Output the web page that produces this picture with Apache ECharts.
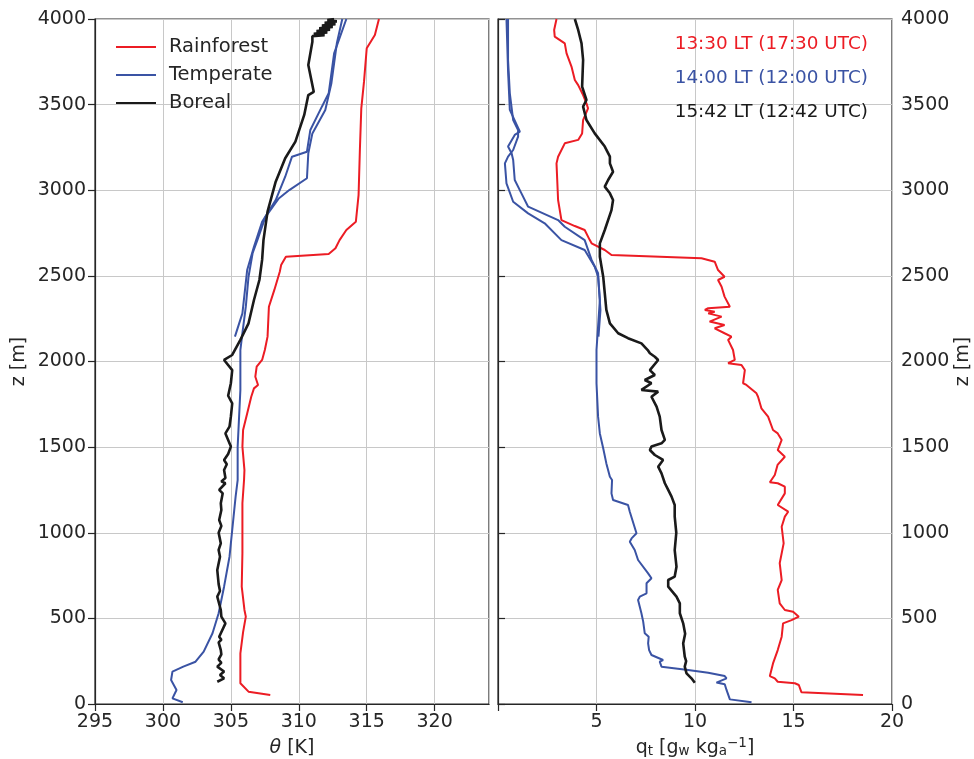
<!DOCTYPE html>
<html>
<head>
<meta charset="utf-8">
<script src="https://cdn.jsdelivr.net/npm/echarts@6.0.0/dist/echarts.min.js"></script>
<style>
  html, body { margin: 0; padding: 0; background: #fff; }
  #chart { width: 974px; height: 759px; }
</style>
</head>
<body>
<div id="chart"></div>
<script>
// profiles: [value, z (m)]
const rainTheta = [[307.9,53],[306.3,72],[305.7,121],[305.7,160],[305.7,296],[305.9,420],[306.1,510],[306.0,549],[305.8,685],[305.85,880],[305.85,1172],[305.97,1308],[306.0,1366],[305.85,1503],[305.9,1600],[306.2,1697],[306.5,1794],[306.7,1843],[307.0,1863],[306.8,1911],[306.9,1970],[307.3,2009],[307.5,2067],[307.7,2145],[307.8,2320],[308.2,2418],[308.6,2524],[308.7,2563],[309.05,2612],[312.2,2628],[312.7,2661],[313.0,2709],[313.5,2768],[314.2,2816],[314.4,2972],[314.5,3245],[314.6,3478],[314.8,3634],[315.0,3829],[315.6,3906],[315.9,4000]];

const tempTheta = [[301.46,10],[300.7,33],[301.0,82],[300.6,140],[300.7,189],[301.5,218],[302.4,247],[303.0,306],[303.65,413],[304.1,530],[304.5,685],[304.9,860],[305.2,1094],[305.35,1211],[305.5,1308],[305.5,1503],[305.7,1834],[305.7,2067],[305.85,2165],[306.1,2320],[306.3,2495],[306.6,2632],[306.95,2709],[307.55,2845],[308.5,2950],[309.3,3001],[310.6,3070],[310.7,3216],[311.0,3332],[311.95,3469],[312.4,3625],[312.8,3858],[313.2,4000]];

const tempTheta2 = [[305.3,2145],[305.6,2220],[305.85,2281],[306.2,2534],[306.7,2670],[307.3,2816],[308.3,2943],[309.0,3079],[309.5,3196],[310.6,3225],[310.85,3352],[311.7,3488],[312.2,3566],[312.6,3799],[313.5,4000]];

const borealTheta = [[304.0,130],[304.5,150],[304.2,169],[304.5,190],[304.0,218],[304.3,240],[304.1,260],[304.3,290],[304.26,315],[304.1,360],[304.3,375],[304.14,393],[304.6,471],[304.3,510],[304.26,549],[304.0,627],[304.2,660],[304.1,700],[304.0,782],[304.2,860],[304.1,900],[304.26,938],[304.1,1000],[304.3,1040],[304.14,1074],[304.3,1133],[304.26,1172],[304.4,1230],[304.14,1250],[304.6,1289],[304.3,1300],[304.6,1320],[304.5,1366],[304.7,1400],[304.5,1425],[304.8,1460],[305.0,1503],[304.6,1580],[304.9,1620],[305.0,1678],[305.1,1756],[304.8,1800],[305.0,1873],[305.1,1950],[304.5,2009],[305.1,2038],[305.7,2126],[306.3,2223],[306.7,2359],[307.1,2476],[307.3,2593],[307.4,2709],[307.7,2875],[308.3,3050],[309.0,3187],[309.75,3284],[310.4,3440],[310.7,3556],[311.1,3575],[310.7,3731],[311.0,3867],[311.0,3900],[311.9,3906],[311.1,3914],[312.1,3922],[311.3,3930],[312.3,3938],[311.5,3946],[312.5,3954],[311.7,3962],[312.7,3970],[311.9,3978],[312.8,3986],[312.1,3994],[312.6,4000]];

const rainQ = [[18.53,53],[15.4,69],[15.27,111],[15.07,121],[14.2,130],[14.05,150],[13.8,163],[13.96,237],[14.2,315],[14.4,393],[14.47,471],[14.9,490],[15.27,510],[14.98,539],[14.56,549],[14.3,588],[14.2,666],[14.4,724],[14.3,822],[14.5,938],[14.4,1035],[14.56,1094],[14.73,1123],[14.2,1162],[14.56,1230],[14.56,1269],[14.2,1289],[13.8,1295],[14.05,1337],[14.19,1396],[14.56,1444],[14.2,1483],[14.4,1542],[14.2,1580],[13.96,1600],[13.71,1678],[13.37,1727],[13.2,1794],[13.12,1814],[12.61,1863],[12.44,1873],[12.53,1950],[12.36,1980],[11.68,1990],[12.02,2009],[11.93,2067],[11.68,2126],[11.85,2145],[11.5,2165],[11.6,2174],[11.0,2194],[11.5,2213],[10.74,2233],[11.35,2262],[10.67,2281],[11.0,2290],[10.5,2301],[10.67,2311],[11.77,2320],[11.5,2379],[11.35,2437],[11.17,2476],[11.5,2495],[11.17,2534],[11.0,2583],[10.33,2603],[5.76,2622],[5.42,2651],[4.75,2690],[4.66,2709],[4.4,2768],[3.9,2791],[3.22,2826],[3.05,2943],[2.97,3157],[3.05,3196],[3.39,3274],[4.07,3294],[4.27,3332],[4.32,3410],[4.57,3478],[4.49,3508],[4.32,3556],[4.07,3614],[3.9,3644],[3.73,3722],[3.48,3799],[3.39,3858],[2.88,3897],[2.85,3936],[2.97,4000]];

const tempQ = [[12.87,10],[11.77,27],[11.6,82],[11.51,115],[11.09,125],[11.6,150],[11.51,163],[10.67,183],[9.65,199],[8.3,218],[8.21,247],[8.38,257],[7.79,286],[7.67,315],[7.62,354],[7.65,393],[7.45,413],[7.37,481],[7.28,530],[7.11,607],[7.2,627],[7.54,646],[7.54,705],[7.79,734],[7.62,763],[7.11,841],[6.94,899],[6.69,948],[6.78,967],[7.03,997],[6.69,1123],[6.6,1162],[5.84,1191],[5.76,1230],[5.79,1308],[5.68,1327],[5.5,1405],[5.34,1493],[5.17,1580],[5.08,1678],[5.0,1873],[5.0,2067],[5.17,2359],[5.08,2495],[4.91,2553],[4.4,2651],[3.22,2709],[2.37,2807],[1.53,2865],[0.77,2933],[0.43,3040],[0.35,3157],[0.51,3196],[0.77,3235],[1.02,3313],[1.02,3352],[0.77,3410],[0.6,3566],[0.51,3761],[0.51,4000]];

const tempQ2 = [[5.1,2145],[5.2,2300],[5.08,2515],[4.75,2593],[4.4,2709],[3.39,2787],[3.05,2826],[1.53,2904],[1.19,2982],[0.85,3060],[0.77,3177],[0.69,3216],[0.51,3255],[0.85,3323],[1.11,3342],[0.6,3469],[0.51,3698],[0.43,4000]];

const borealQ = [[9.99,124],[9.82,150],[9.57,179],[9.48,218],[9.55,250],[9.48,276],[9.4,354],[9.5,410],[9.4,471],[9.23,530],[9.23,588],[9.06,627],[8.64,685],[8.64,724],[8.97,744],[9.06,802],[8.97,899],[9.05,1000],[8.97,1094],[8.97,1162],[8.81,1211],[8.64,1250],[8.47,1289],[8.3,1347],[8.13,1386],[8.38,1425],[7.96,1454],[7.71,1483],[7.79,1503],[8.3,1522],[8.47,1542],[8.3,1600],[8.21,1678],[8.05,1736],[7.79,1794],[8.13,1824],[7.28,1834],[7.79,1873],[7.45,1892],[7.96,1921],[7.71,1950],[8.13,2009],[7.96,2028],[7.71,2048],[7.6,2067],[7.28,2106],[6.6,2136],[6.1,2165],[5.68,2223],[5.5,2301],[5.34,2495],[5.17,2612],[5.17,2690],[5.42,2768],[5.76,2884],[5.84,2943],[5.68,2982],[5.42,3021],[5.59,3060],[5.84,3108],[5.68,3157],[5.68,3196],[5.42,3255],[4.91,3332],[4.49,3410],[4.32,3488],[4.49,3527],[4.27,3605],[4.32,3761],[4.24,3858],[4.07,3936],[3.9,4000]];

const siteNames = ['Rainforest', 'Temperate', 'Boreal'];
const siteColors = ['#ec1c24', '#3a53a4', '#1a1a1a'];
const timeLabels = ['13:30 LT (17:30 UTC)', '14:00 LT (12:00 UTC)', '15:42 LT (12:42 UTC)'];

const FONT = 'DejaVu Sans';
const TXT = '#262626';

var chart = echarts.init(document.getElementById('chart'));

function xAx(gridIndex, min, max, name, hideZero) {
  return {
    type: 'value', gridIndex: gridIndex, min: min, max: max, interval: 5,
    name: name, nameLocation: 'middle', nameGap: 32,
    nameTextStyle: {
      color: TXT, fontFamily: FONT, fontSize: 19, lineHeight: 22,
      rich: {
        it: { fontStyle: 'italic', fontFamily: FONT, fontSize: 19, color: TXT, lineHeight: 22 },
        n: { fontFamily: FONT, fontSize: 19, color: TXT, lineHeight: 22 },
        sub: { fontFamily: FONT, fontSize: 13.5, color: TXT, verticalAlign: 'bottom', lineHeight: 22 },
        sup: { fontFamily: FONT, fontSize: 13.5, color: TXT, verticalAlign: 'top', lineHeight: 22 }
      }
    },
    axisLine: { show: true, lineStyle: { color: TXT, width: 1.2 } },
    axisTick: { show: true, length: 7, lineStyle: { color: TXT, width: 1.2 } },
    axisLabel: {
      color: TXT, fontFamily: FONT, fontSize: 19, margin: 9,
      showMaxLabel: max % 5 === 0,
      formatter: function (v) { return (hideZero && v === 0) || v % 5 !== 0 ? '' : String(v); }
    },
    splitLine: { show: true, lineStyle: { color: '#c8c8c8', width: 1 } }
  };
}

function yAx(gridIndex, pos, gap) {
  return {
    type: 'value', gridIndex: gridIndex, position: pos, min: 0, max: 4000, interval: 500,
    name: 'z [m]', nameLocation: 'middle', nameGap: gap, nameRotate: 90,
    nameTextStyle: { color: TXT, fontFamily: FONT, fontSize: 19 },
    axisLine: { show: true, lineStyle: { color: TXT, width: 1.2 } },
    axisTick: { show: true, length: 7, lineStyle: { color: TXT, width: 1.2 } },
    axisLabel: { color: TXT, fontFamily: FONT, fontSize: 19, margin: 9, formatter: function (v) { return String(v); } },
    splitLine: { show: true, lineStyle: { color: '#c8c8c8', width: 1 } }
  };
}

function line(name, data, color, xi, width) {
  return {
    name: name, type: 'line', xAxisIndex: xi, yAxisIndex: xi,
    data: data, symbol: 'none', showSymbol: false, silent: true, animation: false,
    lineStyle: { color: color, width: width }, itemStyle: { color: color },
    z: 3
  };
}

var option = {
  animation: false,
  backgroundColor: '#fff',
  grid: [
    { left: 95, top: 19, width: 394, height: 685, outerBoundsMode: 'none', containLabel: false, show: true, borderColor: TXT, borderWidth: 1.2, backgroundColor: 'transparent' },
    { left: 498, top: 19, width: 394, height: 685, outerBoundsMode: 'none', containLabel: false, show: true, borderColor: TXT, borderWidth: 1.2, backgroundColor: 'transparent' }
  ],
  xAxis: [
    xAx(0, 295, 324, '{it|θ}{n| [K]}', false),
    xAx(1, 0, 20, '{n|q}{sub|t}{n| [g}{sub|w}{n| kg}{sub|a}{sup|−1}{n|]}', true)
  ],
  yAxis: [
    yAx(0, 'left', 66),
    yAx(1, 'right', 62)
  ],
  legend: {
    data: siteNames,
    orient: 'vertical', left: 111, top: 32,
    itemWidth: 40, itemHeight: 14, itemGap: 8,
    icon: 'path://M0,6 L40,6 L40,8 L0,8 Z',
    textStyle: { color: TXT, fontFamily: FONT, fontSize: 19.5, padding: [0, 0, 0, 8] },
    selectedMode: false
  },
  graphic: timeLabels.map(function (t, i) {
    return {
      type: 'text', x: 868, y: 44 + i * 34, z: 10,
      style: { text: t, fill: siteColors[i], font: '18.4px "DejaVu Sans"', align: 'right', verticalAlign: 'middle' }
    };
  }),
  series: [
    line(siteNames[0], rainTheta, siteColors[0], 0, 2),
    line(siteNames[1], tempTheta, siteColors[1], 0, 2),
    line(siteNames[1], tempTheta2, siteColors[1], 0, 2),
    line(siteNames[2], borealTheta, siteColors[2], 0, 2.6),
    line(siteNames[0], rainQ, siteColors[0], 1, 2),
    line(siteNames[1], tempQ, siteColors[1], 1, 2),
    line(siteNames[1], tempQ2, siteColors[1], 1, 2),
    line(siteNames[2], borealQ, siteColors[2], 1, 2.6)
  ]
};

chart.setOption(option);
</script>
</body>
</html>
